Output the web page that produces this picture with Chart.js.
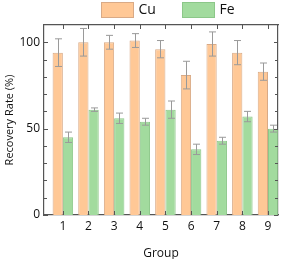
<!DOCTYPE html>
<html>
<head>
<meta charset="utf-8">
<script src="https://cdn.jsdelivr.net/npm/chart.js@4"></script>
<style>
  html, body { margin: 0; padding: 0; background: #fff; }
  #wrap { width: 283px; height: 259px; }
</style>
</head>
<body>
<div id="wrap"><canvas id="c"></canvas></div>
<script>
// Recovery rate per group.
const groups = [1, 2, 3, 4, 5, 6, 7, 8, 9];
const cuRate = [94, 100, 100, 101, 96, 81, 99, 94, 83];
const cuErr  = [8, 8, 4, 4, 5, 8, 7, 7, 5];
const feRate = [45, 61, 56, 54, 61, 38, 43, 57, 50];
const feErr  = [3, 1, 3, 2, 5, 3, 2, 3, 2];
const yMajor = [0, 50, 100];

const font = "'Open Sans', 'DejaVu Sans', sans-serif";
const X_MIN = 0.265, X_MAX = 9.39, Y_MAX = 110;

const errors = [cuErr, feErr];

// error bars, drawn from each bar's own element + the y scale
const errorBars = {
  id: "errorBars",
  afterDatasetsDraw(chart) {
    const { ctx } = chart;
    const y = chart.scales.y;
    ctx.save();
    ctx.strokeStyle = "#9a9a9a";
    ctx.lineWidth = 1;
    chart.data.datasets.forEach((ds, di) => {
      chart.getDatasetMeta(di).data.forEach((bar, i) => {
        const v = ds.data[i].y, e = errors[di][i];
        const x = Math.round(bar.x) + 0.5;
        const hi = y.getPixelForValue(v + e), lo = y.getPixelForValue(v - e);
        ctx.beginPath();
        ctx.moveTo(x, hi); ctx.lineTo(x, lo);
        ctx.moveTo(x - 3.5, hi); ctx.lineTo(x + 3.5, hi);
        ctx.moveTo(x - 3.5, lo); ctx.lineTo(x + 3.5, lo);
        ctx.stroke();
      });
    });
    ctx.restore();
  },
};

// inward tick marks on all four sides
const inTicks = {
  id: "inTicks",
  afterDatasetsDraw(chart) {
    const { ctx, chartArea: a } = chart;
    const x = chart.scales.x, y = chart.scales.y;
    ctx.save();
    ctx.strokeStyle = "#555";
    ctx.lineWidth = 1;
    ctx.beginPath();
    groups.forEach((g) => {
      const px = Math.round(x.getPixelForValue(g)) + 0.5;
      ctx.moveTo(px, a.bottom); ctx.lineTo(px, a.bottom - 4);
      ctx.moveTo(px, a.top); ctx.lineTo(px, a.top + 4);
    });
    for (let v = 0; v <= 100; v += 10) {
      const py = Math.round(y.getPixelForValue(v)) + 0.5;
      const len = yMajor.includes(v) ? 4 : 3;
      ctx.moveTo(a.left, py); ctx.lineTo(a.left + len, py);
      ctx.moveTo(a.right, py); ctx.lineTo(a.right - len, py);
    }
    ctx.stroke();
    ctx.restore();
  },
};

// legend row above the plot: swatch + label per dataset
const topLegend = {
  id: "topLegend",
  afterDraw(chart) {
    const { ctx, chartArea: a } = chart;
    const cx = (a.left + a.right) / 2 + 4;
    const starts = [cx - 64, cx + 17];
    ctx.save();
    ctx.font = "14px " + font;
    ctx.textBaseline = "middle";
    chart.data.datasets.forEach((ds, i) => {
      const x0 = Math.round(starts[i]) + 0.5;
      ctx.fillStyle = ds.backgroundColor;
      ctx.fillRect(x0, 2.5, 32, 15);
      ctx.strokeStyle = ds.borderColor;
      ctx.lineWidth = 1;
      ctx.strokeRect(x0, 2.5, 32, 15);
      ctx.fillStyle = "#111";
      ctx.fillText(ds.label, x0 + 37, 10.5);
    });
    ctx.restore();
  },
};

const border = { display: true, color: "#555", width: 1.2 };

new Chart(document.getElementById("c"), {
  type: "bar",
  data: {
    datasets: [
      { label: "Cu", data: groups.map((g, i) => ({ x: g, y: cuRate[i] })),
        backgroundColor: "#ffc896", borderColor: "#d9aa86", borderWidth: 1 },
      { label: "Fe", data: groups.map((g, i) => ({ x: g, y: feRate[i] })),
        backgroundColor: "#a2db9e", borderColor: "#8cc789", borderWidth: 1 },
    ],
  },
  options: {
    responsive: true, maintainAspectRatio: false, animation: false,
    categoryPercentage: 0.8, barPercentage: 1.0,
    layout: { padding: { top: 25, left: 0, right: 0, bottom: 0 } },
    plugins: { tooltip: { enabled: false }, legend: { display: false } },
    scales: {
      x: {
        type: "linear", position: "bottom", min: X_MIN, max: X_MAX, offset: false,
        afterBuildTicks: (s) => { s.ticks = groups.map((g) => ({ value: g })); },
        grid: { display: false, drawTicks: false }, border,
        ticks: { color: "#111", padding: 4, font: { family: font, size: 12 } },
        title: { display: true, text: "Group", color: "#111", padding: { top: 0, bottom: -2 },
          font: { family: font, size: 12 } },
        afterFit: (s) => { s.height = 44; },
      },
      x2: {
        type: "linear", position: "top", min: X_MIN, max: X_MAX, offset: false,
        grid: { display: false, drawTicks: false }, border, ticks: { display: false },
        afterFit: (s) => { s.height = 0; },
      },
      y: {
        min: 0, max: Y_MAX,
        afterBuildTicks: (s) => { s.ticks = yMajor.map((v) => ({ value: v })); },
        grid: { display: false, drawTicks: false }, border,
        ticks: { color: "#111", padding: 4, font: { family: font, size: 12 } },
        title: { display: true, text: "Recovery Rate (%)", color: "#111",
          padding: { top: 3, bottom: 0 }, font: { family: font, size: 11 } },
        afterFit: (s) => { s.width = 44; },
      },
      y2: {
        position: "right", min: 0, max: Y_MAX,
        grid: { display: false, drawTicks: false }, border, ticks: { display: false },
        afterFit: (s) => { s.width = 5; },
      },
    },
  },
  plugins: [errorBars, inTicks, topLegend],
});
</script>
</body>
</html>
